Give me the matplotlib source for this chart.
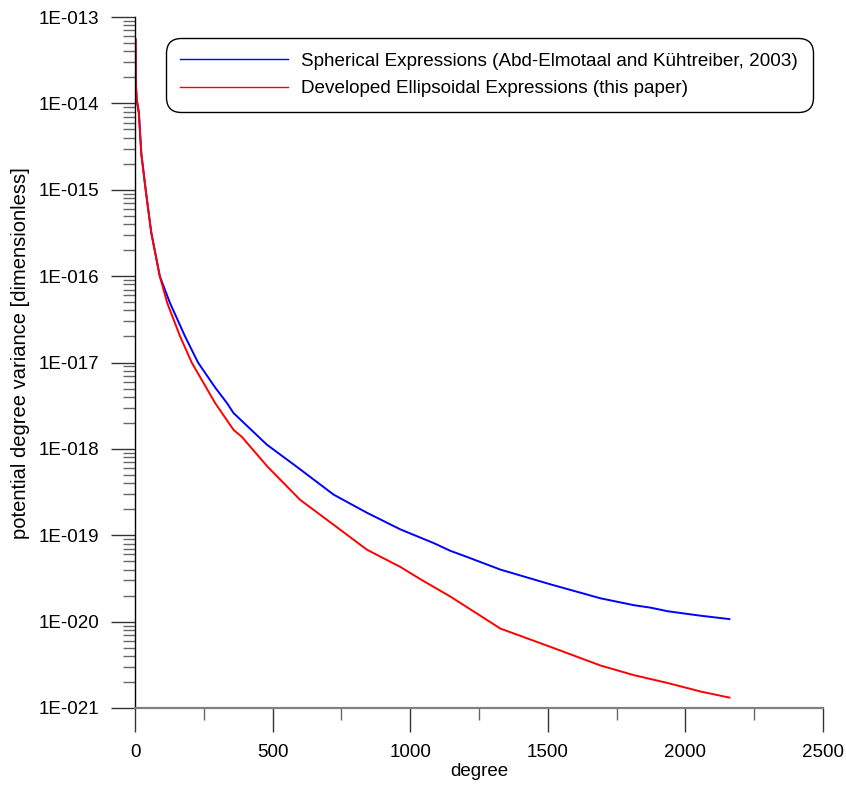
import numpy as np
import matplotlib
matplotlib.use("Agg")
import matplotlib.pyplot as plt
from matplotlib.ticker import MultipleLocator, FixedLocator, FuncFormatter, NullFormatter

plt.rcParams['font.family'] = ['Liberation Sans', 'DejaVu Sans']

# values
deg_sph = [2, 3, 6, 14, 23, 40, 59, 90, 127, 182, 229, 290, 334, 358, 449, 479,
           588, 722, 843, 964, 1086, 1146, 1207, 1328, 1510, 1692, 1813, 1874,
           1935, 2056, 2160]
var_sph = [5.5e-14, 1.78e-14, 1.12e-14, 7.8e-15, 2.6e-15, 9.3e-16, 3.2e-16, 1.0e-16,
           4.9e-17, 2.0e-17, 1.0e-17, 5.2e-18, 3.4e-18, 2.6e-18, 1.38e-18, 1.12e-18,
           6.2e-19, 2.95e-19, 1.82e-19, 1.17e-19, 8.1e-20, 6.6e-20, 5.6e-20, 4.0e-20,
           2.7e-20, 1.86e-20, 1.55e-20, 1.45e-20, 1.32e-20, 1.17e-20, 1.07e-20]

deg_ell = [2, 3, 6, 14, 23, 40, 59, 90, 117, 164, 206, 291, 358, 388, 482, 600,
           722, 843, 964, 1037, 1146, 1328, 1510, 1692, 1813, 1935, 2056, 2160]
var_ell = [5.5e-14, 1.78e-14, 1.12e-14, 7.8e-15, 2.6e-15, 9.3e-16, 3.2e-16, 1.0e-16,
           4.9e-17, 2.0e-17, 1.0e-17, 3.4e-18, 1.66e-18, 1.38e-18, 6.2e-19, 2.57e-19,
           1.32e-19, 6.8e-20, 4.3e-20, 3.1e-20, 1.95e-20, 8.3e-21, 5.1e-21, 3.1e-21,
           2.4e-21, 1.95e-21, 1.55e-21, 1.32e-21]

labels = ["Spherical Expressions (Abd-Elmotaal and Kühtreiber, 2003)",
          "Developed Ellipsoidal Expressions (this paper)"]

# tick positions: one major per decade, 2..9 minors in between
decades = [-21, -20, -19, -18, -17, -16, -15, -14, -13]
major_y = [10.0 ** d for d in decades]
minor_y = [m * 10.0 ** d for d in decades[:-1] for m in range(2, 10)]

fig = plt.figure(figsize=(8.46, 7.87), dpi=100)
ax = fig.add_axes([135/846, 1 - 708/787, 688/846, 691/787])

ax.plot(deg_sph, var_sph, color='#0000ff', lw=1.4, label=labels[0])
ax.plot(deg_ell, var_ell, color='#ff0000', lw=1.4, label=labels[1])

ax.set_yscale('log')
ax.set_xlim(0, 2500)
ax.set_ylim(1e-21, 1e-13)

ax.xaxis.set_major_locator(MultipleLocator(500))
ax.xaxis.set_minor_locator(MultipleLocator(250))
ax.yaxis.set_major_locator(FixedLocator(major_y))
ax.yaxis.set_minor_locator(FixedLocator(minor_y))
ax.yaxis.set_minor_formatter(NullFormatter())
ax.yaxis.set_major_formatter(FuncFormatter(
    lambda v, p: "1E-%03d" % int(round(-np.log10(v)))))

for s in ['top', 'right']:
    ax.spines[s].set_visible(False)
ax.spines['left'].set_color('black')
ax.spines['left'].set_linewidth(1.0)
ax.spines['bottom'].set_color('#808080')
ax.spines['bottom'].set_linewidth(1.6)

ax.tick_params(which='major', length=17, width=1, color='#333333', labelsize=13.5, pad=9)
ax.tick_params(which='minor', length=8.5, width=1, color='#666666')

ax.set_xlabel("degree", fontsize=13.5, labelpad=1)
ax.set_ylabel("potential degree variance [dimensionless]", fontsize=14.5)
ax.yaxis.set_label_coords(-0.153, 0.514)

leg = ax.legend(loc='upper left', bbox_to_anchor=(169/846, 1 - 41/787),
                bbox_transform=fig.transFigure, fontsize=13.6, handlelength=5.7,
                handletextpad=0.7, labelspacing=0.56, borderpad=0.6,
                borderaxespad=0, frameon=True, fancybox=True)
frame = leg.get_frame()
frame.set_edgecolor('black')
frame.set_linewidth(1.0)
frame.set_alpha(1)
frame.set_boxstyle('round', pad=0.18, rounding_size=0.8)
for line in leg.get_lines():
    line.set_linewidth(1.0)

fig.savefig("out.png", dpi=100)
